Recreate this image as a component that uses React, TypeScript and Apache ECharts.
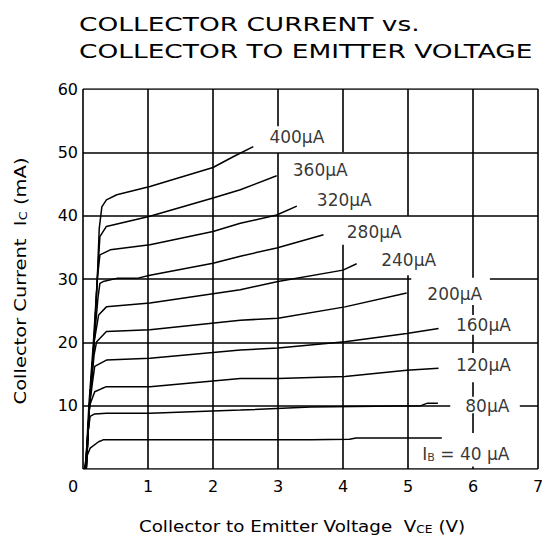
import React, { useEffect, useRef } from "react";
import * as echarts from "echarts";

const FONT = "DejaVu Sans";

// Collector current curves: [Vce (V), Ic (mA)] per base current
const curve40 = [[0.02, 0], [0.06, 2], [0.11, 3.3], [0.24, 4.3], [0.31, 4.6], [1.0, 4.6], [2.42, 4.6], [3.5, 4.6], [4.1, 4.7], [4.2, 4.9], [5.52, 4.9]];
const curve80 = [[0.03, 0], [0.08, 6], [0.11, 8.3], [0.18, 8.7], [0.36, 8.8], [1.03, 8.8], [2.42, 9.3], [3.5, 9.8], [5.2, 10.0], [5.3, 10.4], [5.46, 10.4]];
const curve120 = [[0.04, 0], [0.1, 10], [0.18, 12.2], [0.29, 12.7], [0.36, 13.0], [1.03, 13.0], [2.42, 14.3], [3.0, 14.3], [4.03, 14.6], [4.98, 15.6], [5.47, 15.9]];
const curve160 = [[0.04, 0], [0.1, 10], [0.15, 14], [0.18, 16.2], [0.36, 17.2], [1.03, 17.5], [2.42, 18.8], [3.0, 19.1], [4.03, 20.1], [4.98, 21.4], [5.47, 22.2]];
const curve200 = [[0.05, 0], [0.1, 10], [0.17, 18], [0.21, 20.1], [0.36, 21.7], [1.03, 22.0], [2.42, 23.5], [3.0, 23.8], [4.03, 25.6], [4.98, 27.8]];
const curve240 = [[0.05, 0], [0.1, 10], [0.17, 20], [0.24, 24.3], [0.36, 25.6], [1.03, 26.2], [2.42, 28.3], [3.0, 29.6], [4.0, 31.4], [4.21, 32.4]];
const curve280 = [[0.05, 0], [0.1, 10], [0.17, 20], [0.23, 27], [0.26, 29.3], [0.31, 29.6], [0.52, 30.1], [0.83, 30.1], [1.03, 30.6], [2.0, 32.5], [2.42, 33.6], [2.98, 34.9], [3.7, 37.0]];
const curve320 = [[0.05, 0], [0.1, 10], [0.17, 20], [0.22, 30], [0.26, 33.8], [0.42, 34.6], [1.03, 35.4], [2.0, 37.5], [2.42, 38.8], [2.98, 40.1], [3.29, 41.5]];
const curve360 = [[0.05, 0], [0.1, 10], [0.17, 20], [0.22, 30], [0.26, 36.7], [0.36, 38.3], [1.03, 39.9], [2.0, 42.8], [2.42, 44.1], [2.98, 46.3]];
const curve400 = [[0.04, 0], [0.09, 10], [0.16, 20], [0.22, 30], [0.25, 38], [0.29, 41.4], [0.36, 42.5], [0.52, 43.3], [1.03, 44.6], [2.0, 47.6], [2.31, 49.3], [2.62, 50.9]];
const curves = [curve40, curve80, curve120, curve160, curve200, curve240, curve280, curve320, curve360, curve400];

// Curve labels
const labelTexts = ["400μA", "360μA", "320μA", "280μA", "240μA", "200μA", "160μA", "120μA", "80μA", "I{s|B} = 40 μA"];
const labelV = [3.29, 3.65, 4.02, 4.48, 5.01, 5.72, 6.16, 6.16, 6.22, 5.89];
const labelI = [52.4, 47.2, 42.4, 37.5, 33.0, 27.6, 22.7, 16.4, 10.0, 2.3];

// Grid line segments (broken where labels sit): [x, yFrom, yTo] and [y, xFrom, xTo]
const vGridSegs = [[0, 0, 60], [1, 0, 60], [2, 0, 60], [3, 0, 49.9], [3, 54.1, 60], [4, 0, 35.4], [4, 50, 60], [5, 0, 30.6], [5, 40, 60], [6, 30.2, 60], [6, 24.3, 25.9], [6, 18.3, 21.2], [6, 11.4, 13.7], [6, 5.7, 8.8], [6, 0, 0.4], [7, 0, 60]];
const hGridSegs = [[0, 0, 7], [10, 0, 5.65], [10, 6.72, 7], [20, 0, 7], [30, 0, 5.05], [30, 6.26, 7], [40, 0, 7], [50, 0, 7], [60, 0, 7]];

export default function App() {
  const ref = useRef<HTMLDivElement>(null);
  useEffect(() => {
    if (!ref.current) return;
    const chart = echarts.init(ref.current, undefined, { renderer: "svg" });
    const gridData = [
      ...vGridSegs.map(([x, a, b]) => ({ coords: [[x, a], [x, b]] })),
      ...hGridSegs.map(([y, a, b]) => ({ coords: [[a, y], [b, y]] })),
    ];
    const option: any = {
      animation: false,
      backgroundColor: "#fff",
      grid: { left: 83, right: 4, top: 89, bottom: 72, outerBoundsMode: "none" },
      xAxis: {
        type: "value", min: 0, max: 7, interval: 1,
        axisLine: { show: false }, axisTick: { show: false }, splitLine: { show: false },
        axisLabel: {
          color: "#000", fontSize: 16, fontFamily: FONT, margin: 9,
          formatter: (v: number) => (v === 0 ? "{z|0}" : String(v)),
          rich: { z: { color: "#000", fontSize: 16, fontFamily: FONT, padding: [0, 20, 0, 0] } },
        },
      },
      yAxis: {
        type: "value", min: 0, max: 60, interval: 10,
        axisLine: { show: false }, axisTick: { show: false }, splitLine: { show: false },
        axisLabel: {
          color: "#000", fontSize: 16, fontFamily: FONT, margin: 5,
          formatter: (v: number) => (v === 0 ? "" : String(v)),
        },
      },
      graphic: [
        { type: "text", x: 79, y: 24, scaleX: 1.39, style: { text: "COLLECTOR CURRENT vs.", fontSize: 19, fontFamily: FONT, fill: "#000", align: "left", verticalAlign: "middle" } },
        { type: "text", x: 79, y: 51, scaleX: 1.39, style: { text: "COLLECTOR TO EMITTER VOLTAGE", fontSize: 19, fontFamily: FONT, fill: "#000", align: "left", verticalAlign: "middle" } },
        {
          type: "text", x: 302, y: 527, scaleX: 1.22,
          style: {
            text: "Collector to Emitter Voltage  V{s|CE} (V)", fontSize: 15, fontFamily: FONT, fill: "#000", align: "center", verticalAlign: "middle",
            rich: { s: { fontSize: 10, fontFamily: FONT, fill: "#000", padding: [6, 0, 0, 0] } },
          },
        },
        {
          type: "text", x: 21, y: 281, rotation: Math.PI / 2, scaleX: 1.3,
          style: {
            text: "Collector Current  I{s|C} (mA)", fontSize: 15, fontFamily: FONT, fill: "#000", align: "center", verticalAlign: "middle",
            rich: { s: { fontSize: 10, fontFamily: FONT, fill: "#000", padding: [6, 0, 0, 0] } },
          },
        },
      ],
      series: [
        {
          type: "lines", coordinateSystem: "cartesian2d", polyline: false, silent: true, z: 1,
          lineStyle: { color: "#000", width: 1.6, opacity: 1, curveness: 0 },
          data: gridData,
        },
        ...curves.map((c) => ({
          type: "line", data: c, showSymbol: false, symbol: "none", silent: true, z: 3,
          lineStyle: { color: "#000", width: 1.5 },
        })),
        {
          type: "scatter", z: 4, silent: true, symbolSize: 1,
          itemStyle: { color: "rgba(0,0,0,0)" },
          data: labelTexts.map((t, i) => ({ value: [labelV[i], labelI[i]], name: t })),
          label: {
            show: true, position: "inside", color: "#000", fontSize: 17, fontFamily: FONT,
            formatter: (p: any) => p.name,
            rich: { s: { color: "#000", fontSize: 11, fontFamily: FONT, padding: [6, 0, 0, 0] } },
          },
        },
      ],
    };
    chart.setOption(option);
    return () => chart.dispose();
  }, []);
  return <div ref={ref} style={{ position: "fixed", left: 0, top: 0, width: 542, height: 541 }} />;
}
